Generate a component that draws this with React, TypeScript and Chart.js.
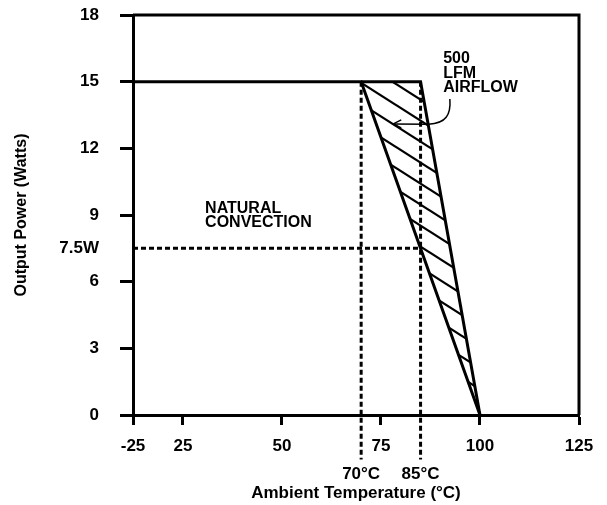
import React, { useEffect, useRef } from 'react';
import { Chart, registerables } from 'chart.js';

Chart.register(...registerables);

// ---- data ----
// x axis is broken: its left end is labelled "-25"
const X_TICK_VALUES = [12.4, 25, 50, 75, 100, 125];
const X_TICK_LABELS = ['-25', '25', '50', '75', '100', '125'];
const Y_TICK_VALUES = [0, 3, 6, 7.5, 9, 12, 15, 18];
const Y_TICK_LABELS = ['0', '3', '6', '7.5W', '9', '12', '15', '18'];

const NATURAL_X = [12.4, 70, 100];
const NATURAL_Y = [15, 15, 0];
const LFM_X = [70, 85, 100];
const LFM_Y = [15, 15, 0];
const REF75_X = [12.4, 85];
const REF75_Y = [7.5, 7.5];
const REF70_X = [70, 70];
const REF70_Y = [15, -2];
const REF85_X = [85, 85];
const REF85_Y = [15, -2];

const NATURAL_LABEL = ['NATURAL', 'CONVECTION'];
const NATURAL_LABEL_AT = [30.6, 9.27];
const LFM_LABEL = ['500', 'LFM', 'AIRFLOW'];
const LFM_LABEL_AT = [90.7, 16.02];
const TEMP_LABELS = ['70°C', '85°C'];
const TEMP_LABEL_X = [70, 85];
const TEMP_LABEL_Y = -2.4;
// arrow: start, cp1, cp2, end of curve, tip
const ARROW_X = [92.4, 92.7, 91.4, 87.0, 78.1];
const ARROW_Y = [14.22, 13.5, 13.12, 13.08, 13.1];

const FONT = '"Liberation Sans", Arial, Helvetica, sans-serif';

const pts = (xs: number[], ys: number[]) => xs.map((x, i) => ({ x, y: ys[i] }));

function makeHatch(): CanvasPattern | string {
  const W = 33, H = 21;
  const c = document.createElement('canvas');
  c.width = W;
  c.height = H;
  const g = c.getContext('2d');
  if (!g) return 'rgba(0,0,0,0.2)';
  g.strokeStyle = '#000';
  g.lineWidth = 2.2;
  for (let k = -1; k <= 1; k++) {
    g.beginPath();
    g.moveTo(-2, k * H - (2 * H) / W);
    g.lineTo(W + 2, k * H + H + (2 * H) / W);
    g.stroke();
  }
  return g.createPattern(c, 'repeat') || 'rgba(0,0,0,0.2)';
}

const framePlugin = {
  id: 'frame',
  afterDatasetsDraw(chart: any) {
    const { ctx, chartArea: a } = chart;
    ctx.save();
    ctx.strokeStyle = '#000';
    ctx.lineWidth = 3;
    ctx.beginPath();
    ctx.moveTo(a.left, a.top);
    ctx.lineTo(a.right, a.top);
    ctx.lineTo(a.right, a.bottom);
    ctx.stroke();
    ctx.restore();
  },
};

const annotPlugin = {
  id: 'annot',
  afterDraw(chart: any) {
    const { ctx } = chart;
    const xs = chart.scales.x;
    const ys = chart.scales.y;
    const px = (v: number) => xs.getPixelForValue(v);
    const py = (v: number) => ys.getPixelForValue(v);
    ctx.save();
    ctx.fillStyle = '#000';
    ctx.font = `bold 16px ${FONT}`;
    ctx.textBaseline = 'middle';
    ctx.textAlign = 'left';
    NATURAL_LABEL.forEach((t, i) => {
      ctx.fillText(t, px(NATURAL_LABEL_AT[0]), py(NATURAL_LABEL_AT[1]) + i * 14);
    });
    LFM_LABEL.forEach((t, i) => {
      ctx.fillText(t, px(LFM_LABEL_AT[0]), py(LFM_LABEL_AT[1]) + i * 14.5);
    });
    ctx.font = `bold 17px ${FONT}`;
    ctx.textAlign = 'center';
    TEMP_LABELS.forEach((t, i) => {
      ctx.fillText(t, px(TEMP_LABEL_X[i]), py(TEMP_LABEL_Y) + 6);
    });
    // arrow
    ctx.strokeStyle = '#000';
    ctx.lineWidth = 1.5;
    ctx.beginPath();
    ctx.moveTo(px(ARROW_X[0]), py(ARROW_Y[0]));
    ctx.bezierCurveTo(px(ARROW_X[1]), py(ARROW_Y[1]), px(ARROW_X[2]), py(ARROW_Y[2]), px(ARROW_X[3]), py(ARROW_Y[3]));
    const tx = px(ARROW_X[4]);
    const ty = py(ARROW_Y[4]);
    ctx.lineTo(tx, ty);
    ctx.stroke();
    ctx.beginPath();
    ctx.moveTo(tx + 8, ty - 4);
    ctx.lineTo(tx, ty);
    ctx.lineTo(tx + 8, ty + 4);
    ctx.stroke();
    ctx.restore();
  },
};

export default function App() {
  const ref = useRef<HTMLCanvasElement | null>(null);

  useEffect(() => {
    if (!ref.current) return;
    Chart.defaults.font.family = FONT;
    Chart.defaults.color = '#000';
    const hatch = makeHatch();
    const lineBase = {
      borderColor: '#000',
      borderWidth: 3,
      pointRadius: 0,
      tension: 0,
      fill: false,
    };
    const chart = new Chart(ref.current, {
      type: 'line',
      data: {
        datasets: [
          { ...lineBase, label: 'Natural convection', data: pts(NATURAL_X, NATURAL_Y) },
          {
            ...lineBase,
            label: '500 LFM airflow',
            data: pts(LFM_X, LFM_Y),
            fill: '-1',
            backgroundColor: hatch as any,
          },
          { ...lineBase, label: '7.5W', data: pts(REF75_X, REF75_Y), borderDash: [5, 3], clip: false as any },
          { ...lineBase, label: '70C', data: pts(REF70_X, REF70_Y), borderDash: [5, 3], clip: false as any },
          { ...lineBase, label: '85C', data: pts(REF85_X, REF85_Y), borderDash: [5, 3], clip: false as any },
        ] as any,
      },
      options: {
        animation: false,
        responsive: false,
        layout: { padding: { left: 0, top: 15, right: 28, bottom: 0 } },
        plugins: { legend: { display: false }, tooltip: { enabled: false } },
        scales: {
          x: {
            type: 'linear',
            min: 12.4,
            max: 125,
            afterFit: (s: any) => { s.height = 90; },
            afterBuildTicks: (s: any) => { s.ticks = X_TICK_VALUES.map((v) => ({ value: v })); },
            ticks: {
              callback: (_v: any, i: number) => X_TICK_LABELS[i],
              font: { size: 17, weight: 'bold' },
              color: '#000',
              padding: 11,
              maxRotation: 0,
              autoSkip: false,
            },
            grid: { drawOnChartArea: false, drawTicks: true, tickLength: 10, tickWidth: 3, tickColor: '#000' },
            border: { display: true, width: 3, color: '#000' },
            title: {
              display: true,
              text: 'Ambient Temperature (°C)',
              font: { size: 17, weight: 'bold' },
              color: '#000',
              padding: { top: 0, bottom: 1 },
            },
          },
          y: {
            type: 'linear',
            min: 0,
            max: 18,
            afterFit: (s: any) => {
              s.width = 133;
              s.paddingTop = 10;
              s.paddingBottom = 10;
            },
            afterBuildTicks: (s: any) => { s.ticks = Y_TICK_VALUES.map((v) => ({ value: v })); },
            ticks: {
              callback: (_v: any, i: number) => Y_TICK_LABELS[i],
              font: { size: 17, weight: 'bold' },
              color: '#000',
              padding: 21,
              autoSkip: false,
            },
            grid: {
              drawOnChartArea: false,
              drawTicks: true,
              tickLength: 13,
              tickWidth: 3,
              tickColor: (ctx: any) => (ctx.tick && ctx.tick.value === 7.5 ? 'rgba(0,0,0,0)' : '#000'),
            },
            border: { display: true, width: 3, color: '#000' },
            title: {
              display: true,
              text: 'Output Power (Watts)',
              font: { size: 16, weight: 'bold' },
              color: '#000',
              padding: { top: 12, bottom: 0 },
            },
          },
        },
      } as any,
      plugins: [framePlugin, annotPlugin],
    });
    return () => chart.destroy();
  }, []);

  return (
    <div style={{ position: 'absolute', left: 0, top: 0, width: 607, height: 505, background: '#fff' }}>
      <canvas ref={ref} width={607} height={505} style={{ display: 'block' }} />
    </div>
  );
}
